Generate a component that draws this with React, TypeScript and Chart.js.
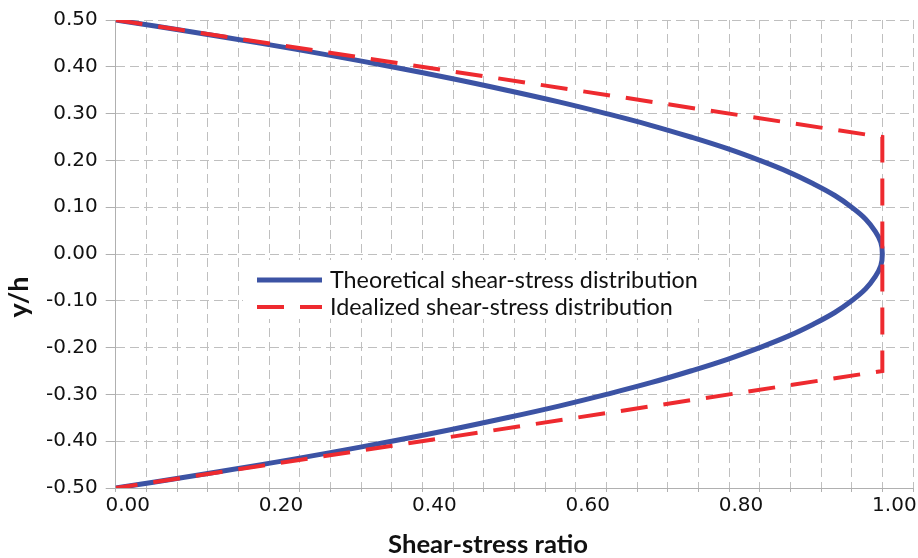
import React, { useEffect, useRef } from "react";
import { Chart, registerables } from "chart.js";

Chart.register(...registerables);

// y/h positions of the theoretical curve and the read shear-stress ratio at each
const theoreticalY = [
  0.5, 0.475, 0.45, 0.425, 0.4, 0.375, 0.35, 0.325, 0.3, 0.275, 0.25, 0.225, 0.2, 0.175, 0.15, 0.125, 0.1, 0.075, 0.05, 0.025, 0,
  -0.025, -0.05, -0.075, -0.1, -0.125, -0.15, -0.175, -0.2, -0.225, -0.25, -0.275, -0.3, -0.325, -0.35, -0.375, -0.4, -0.425, -0.45, -0.475, -0.5,
];
const theoreticalX = [
  0.0, 0.098, 0.19, 0.278, 0.36, 0.438, 0.51, 0.578, 0.64, 0.698, 0.75, 0.798, 0.84, 0.878, 0.91, 0.938, 0.96, 0.978, 0.99, 0.998, 1.0,
  0.998, 0.99, 0.978, 0.96, 0.938, 0.91, 0.878, 0.84, 0.798, 0.75, 0.698, 0.64, 0.578, 0.51, 0.438, 0.36, 0.278, 0.19, 0.098, 0.0,
];
const idealizedY = [0.5, 0.25, -0.25, -0.5];
const idealizedX = [0.0, 1.0, 1.0, 0.0];

const seriesNames = ["Theoretical shear-stress distribution", "Idealized shear-stress distribution"];
const xTitle = "Shear-stress ratio";
const yTitle = "y/h";

const BLUE = "#3c53a4";
const RED = "#ee2a2f";
const GRID = "#bfbfbf";
const AXIS = "#b0b0b0";
const TEXT_FONT = "Lato, 'Open Sans', sans-serif";

const fitFont = (ctx: CanvasRenderingContext2D, text: string, weight: string, target: number) => {
  ctx.font = `${weight} 20px ${TEXT_FONT}`;
  const w = ctx.measureText(text).width;
  return (20 * target) / w;
};

const overlayPlugin = {
  id: "overlay",
  afterDraw(chart: any) {
    const ctx: CanvasRenderingContext2D = chart.ctx;
    ctx.save();
    // legend box
    ctx.fillStyle = "#ffffff";
    ctx.fillRect(243, 260, 458, 59);
    const rows = [
      { y: 280, color: BLUE, width: 5, dash: [] as number[] },
      { y: 307, color: RED, width: 4, dash: [27, 16] },
    ];
    const s = fitFont(ctx, seriesNames[0], "normal", 368);
    rows.forEach((r, i) => {
      ctx.beginPath();
      ctx.setLineDash(r.dash);
      ctx.strokeStyle = r.color;
      ctx.lineWidth = r.width;
      ctx.moveTo(257, r.y);
      ctx.lineTo(322, r.y);
      ctx.stroke();
      ctx.setLineDash([]);
      ctx.fillStyle = "#111111";
      ctx.font = `normal ${s}px ${TEXT_FONT}`;
      ctx.textBaseline = "middle";
      ctx.textAlign = "left";
      ctx.fillText(seriesNames[i], 330, r.y);
    });
    // axis titles
    const sx = fitFont(ctx, xTitle, "bold", 200);
    ctx.font = `bold ${sx}px ${TEXT_FONT}`;
    ctx.textAlign = "center";
    ctx.textBaseline = "middle";
    ctx.fillStyle = "#111111";
    ctx.fillText(xTitle, 488, 545);
    ctx.translate(19, 297);
    ctx.rotate(-Math.PI / 2);
    ctx.font = `bold ${sx * 1.05}px ${TEXT_FONT}`;
    ctx.fillText(yTitle, 0, 0);
    ctx.restore();
  },
};

export default function App() {
  const ref = useRef<HTMLCanvasElement | null>(null);
  useEffect(() => {
    if (!ref.current) return;
    const chart = new Chart(ref.current, {
      type: "scatter",
      data: {
        datasets: [
          {
            label: seriesNames[1],
            data: idealizedX.map((x, i) => ({ x, y: idealizedY[i] })),
            showLine: true,
            borderColor: RED,
            backgroundColor: RED,
            borderWidth: 4,
            borderDash: [27, 16],
            pointRadius: 0,
            tension: 0,
            order: 1,
          },
          {
            label: seriesNames[0],
            data: theoreticalX.map((x, i) => ({ x, y: theoreticalY[i] })),
            showLine: true,
            borderColor: BLUE,
            backgroundColor: BLUE,
            borderWidth: 5,
            pointRadius: 0,
            tension: 0.4,
            order: 2,
          },
        ],
      },
      plugins: [overlayPlugin],
      options: {
        animation: false,
        responsive: true,
        maintainAspectRatio: false,
        layout: { padding: { top: 18, right: 5, left: 0, bottom: 0 } },
        plugins: { legend: { display: false }, tooltip: { enabled: false } },
        scales: {
          x: {
            type: "linear",
            min: 0,
            max: 1.04,
            afterFit: (scale: any) => {
              scale.height = 70;
            },
            ticks: {
              stepSize: 0.04,
              autoSkip: false,
              maxRotation: 0,
              labelOffset: 12,
              padding: 2,
              color: "#111111",
              font: { family: "'DejaVu Sans'", size: 20 },
              callback: (v: any) => {
                const n = Number(v);
                const q = n / 0.2;
                return Math.abs(q - Math.round(q)) < 1e-6 ? (Math.abs(n) < 1e-9 ? 0 : n).toFixed(2) : "";
              },
            },
            grid: { color: GRID, lineWidth: 1, tickLength: 4, tickColor: AXIS, tickBorderDash: [] },
            border: { display: true, color: AXIS, width: 1, dash: [9, 5] },
          },
          y: {
            type: "linear",
            min: -0.5,
            max: 0.5,
            afterFit: (scale: any) => {
              scale.width = 115.7;
            },
            ticks: {
              stepSize: 0.1,
              padding: 8,
              color: "#111111",
              font: { family: "'DejaVu Sans'", size: 20 },
              callback: (v: any) => {
                const n = Number(v);
                return (Math.abs(n) < 1e-9 ? 0 : n).toFixed(2);
              },
            },
            grid: { color: GRID, lineWidth: 1, tickLength: 10, tickColor: AXIS, tickBorderDash: [] },
            border: { display: true, color: AXIS, width: 1, dash: [9, 5] },
          },
        },
      },
    });
    return () => chart.destroy();
  }, []);
  return (
    <div style={{ position: "absolute", left: 0, top: 0, width: 918, height: 558, background: "#fff" }}>
      <canvas ref={ref} />
    </div>
  );
}
